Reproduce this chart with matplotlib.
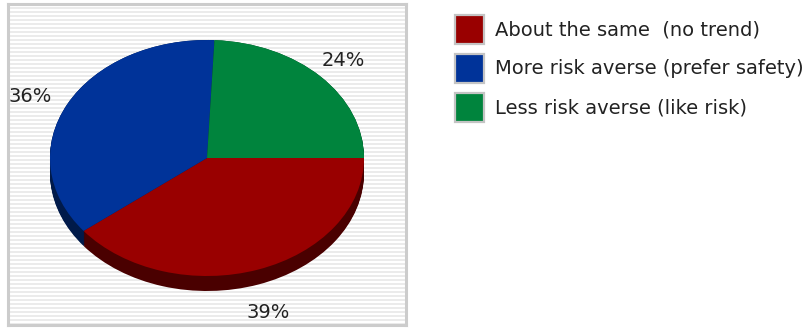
import numpy as np
import matplotlib
matplotlib.use("Agg")
import matplotlib.pyplot as plt
from matplotlib.patches import Patch

# data
labels = ["About the same  (no trend)",
          "More risk averse (prefer safety)",
          "Less risk averse (like risk)"]
shares = [39, 36, 24]
top_colors = ["#990000", "#003399", "#00843d"]
side_colors = ["#4a0000", "#001a4a", "#00401e"]

W, H = 810, 328
fig = plt.figure(figsize=(W / 100, H / 100), dpi=100)

def px_axes(left, top, right, bottom):
    # axes placed by pixel box (top-left origin)
    return fig.add_axes([left / W, 1 - bottom / H, (right - left) / W, (bottom - top) / H])

# striped plot background with a grey frame
bg = px_axes(8, 4, 406, 325)
bg.set_xlim(0, 1)
bg.set_ylim(0, 321)
for y0 in np.arange(0, 321, 4):
    bg.axhspan(y0, y0 + 2, color="#ebebeb", lw=0)
bg.set_xticks([])
bg.set_yticks([])
for s in bg.spines.values():
    s.set_color("#cccccc")
    s.set_linewidth(2.2)

# pie axes: same box, limits chosen so the unit circle becomes the ellipse
ax = px_axes(10, 5, 405, 323)
cx, cy = 207, 158          # pie centre in pixels
rx, ry = 157, 118          # ellipse radii in pixels
depth = 15 / ry            # thickness of the 3d rim in data units

for off in np.linspace(depth, 0, 16):
    ax.pie(shares, colors=side_colors, startangle=0, counterclock=False,
           center=(0, -off), radius=1, wedgeprops=dict(linewidth=0))

wedges, texts, autotexts = ax.pie(
    shares, colors=top_colors, startangle=0, counterclock=False,
    center=(0, 0), radius=1, wedgeprops=dict(linewidth=0),
    autopct="%.0f%%", pctdistance=1.2,
    textprops=dict(fontsize=14, color="#222222"))

# red label sits below the rim, blue one a bit further out
x, y = autotexts[0].get_position()
autotexts[0].set_position((x, y - depth - 0.045))
x, y = autotexts[1].get_position()
autotexts[1].set_position((x - 0.06, y - 0.03))

ax.set_aspect("auto")
ax.set_xlim(-(cx - 10) / rx, (405 - cx) / rx)
ax.set_ylim(-(323 - cy) / ry, (cy - 5) / ry)
ax.axis("off")

# legend
handles = [Patch(facecolor=c, edgecolor="#c4c4c4", linewidth=1.6) for c in top_colors]
fig.legend(handles, labels, loc="upper left",
           bbox_to_anchor=(455 / W, 1 - 15 / H), frameon=False,
           fontsize=14, handlelength=1.49, handleheight=1.92,
           handletextpad=0.55, labelspacing=0.5, borderpad=0, borderaxespad=0,
           labelcolor="#222222")

fig.savefig("out.png", dpi=100)
